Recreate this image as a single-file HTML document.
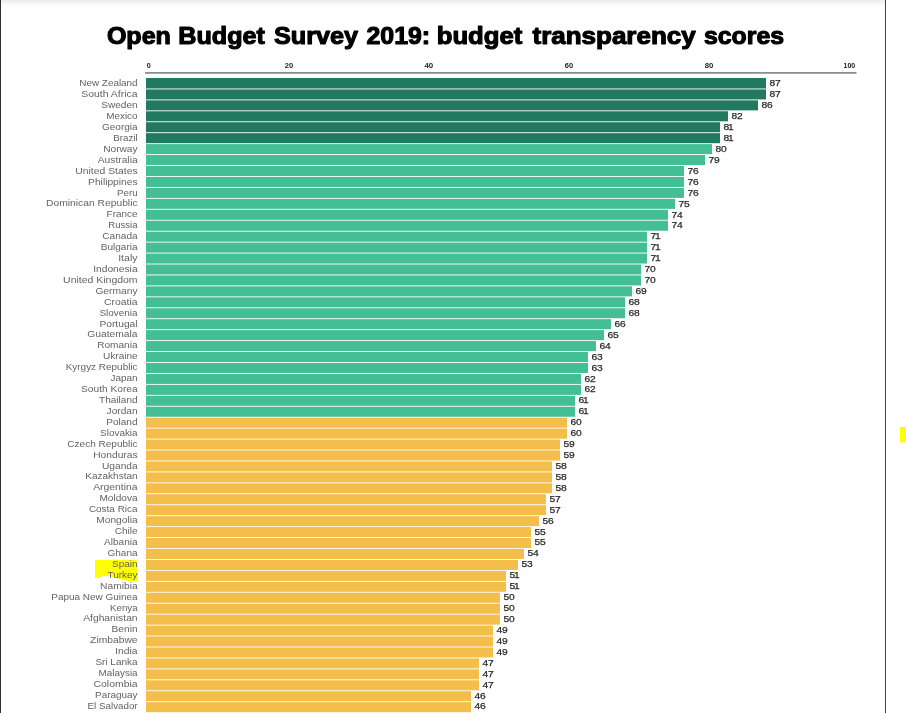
<!DOCTYPE html>
<html><head><meta charset="utf-8"><title>Open Budget Survey 2019</title>
<style>
html,body{margin:0;padding:0;background:#fff;}
body{width:906px;height:713px;overflow:hidden;position:relative;font-family:"Liberation Sans",sans-serif;}
svg{position:absolute;left:0;top:0;display:block;will-change:transform;}
text{font-family:"Liberation Sans",sans-serif;}
.lab{font-size:8.6px;fill:#636363;text-anchor:end;}
.val{font-size:9.4px;fill:#2b2b2b;stroke:#2b2b2b;stroke-width:0.25px;text-anchor:start;}
.tick{font-size:7.1px;font-weight:bold;fill:#222;}
.title{font-size:24px;font-weight:bold;fill:#000;stroke:#000;stroke-width:1.1px;stroke-linejoin:round;}
</style></head><body>
<svg width="906" height="713" viewBox="0 0 906 713">
<defs><linearGradient id="tg" x1="0" y1="0" x2="0" y2="1"><stop offset="0" stop-color="#ebebeb"/><stop offset="1" stop-color="#ffffff"/></linearGradient></defs>
<rect x="0" y="0" width="906" height="713" fill="#fff"/>
<rect x="1" y="0" width="884" height="6" fill="url(#tg)"/>
<rect x="0" y="0" width="1" height="713" fill="#303030"/>
<rect x="885" y="0" width="1" height="713" fill="#444"/>
<rect x="900" y="427" width="6" height="15.5" fill="#ffff00"/>
<polygon points="95,560 136.5,560 137.9,567 137.9,581.6 133,581.4 122.4,579.9 109.1,576.1 102.1,576.1 100.3,577.8 95,577.7" fill="#ffff00"/>
<text class="title" x="106.90" y="43.6" textLength="64.01" lengthAdjust="spacingAndGlyphs">Open</text>
<text class="title" x="178.30" y="43.6" textLength="86.60" lengthAdjust="spacingAndGlyphs">Budget</text>
<text class="title" x="273.90" y="43.6" textLength="84.20" lengthAdjust="spacingAndGlyphs">Survey</text>
<text class="title" x="366.50" y="43.6" textLength="63.67" lengthAdjust="spacingAndGlyphs">2019:</text>
<text class="title" x="436.70" y="43.6" textLength="85.60" lengthAdjust="spacingAndGlyphs">budget</text>
<text class="title" x="532.50" y="43.6" textLength="163.20" lengthAdjust="spacingAndGlyphs">transparency</text>
<text class="title" x="703.90" y="43.6" textLength="80.20" lengthAdjust="spacingAndGlyphs">scores</text>
<rect x="145" y="72.1" width="711.5" height="1.6" fill="#7f827f"/>

<text class="tick" x="146.8" y="68" textLength="4.0" lengthAdjust="spacingAndGlyphs">0</text>
<text class="tick" x="284.8" y="68" textLength="8.4" lengthAdjust="spacingAndGlyphs">20</text>
<text class="tick" x="424.4" y="68" textLength="8.8" lengthAdjust="spacingAndGlyphs">40</text>
<text class="tick" x="564.8" y="68" textLength="8.4" lengthAdjust="spacingAndGlyphs">60</text>
<text class="tick" x="704.8" y="68" textLength="8.6" lengthAdjust="spacingAndGlyphs">80</text>
<text class="tick" x="843.5" y="68" textLength="11.7" lengthAdjust="spacingAndGlyphs">100</text>
<rect x="146.0" y="78.000" width="620.0" height="10.490" fill="#217a5e"/>
<text class="lab" x="137.6" y="86.30" textLength="58.3" lengthAdjust="spacingAndGlyphs">New Zealand</text>
<text class="val" x="769.4" y="86.35" textLength="5.7" lengthAdjust="spacingAndGlyphs">8</text>
<text class="val" x="775.1" y="86.35" textLength="5.7" lengthAdjust="spacingAndGlyphs">7</text>
<rect x="146.0" y="89.392" width="620.0" height="10.040" fill="#217a5e"/>
<text class="lab" x="137.6" y="97.22" textLength="56.4" lengthAdjust="spacingAndGlyphs">South Africa</text>
<text class="val" x="769.4" y="97.28" textLength="5.7" lengthAdjust="spacingAndGlyphs">8</text>
<text class="val" x="775.1" y="97.28" textLength="5.7" lengthAdjust="spacingAndGlyphs">7</text>
<rect x="146.0" y="100.334" width="612.0" height="10.040" fill="#217a5e"/>
<text class="lab" x="137.6" y="108.14" textLength="36.4" lengthAdjust="spacingAndGlyphs">Sweden</text>
<text class="val" x="761.4" y="108.21" textLength="5.7" lengthAdjust="spacingAndGlyphs">8</text>
<text class="val" x="767.1" y="108.21" textLength="5.7" lengthAdjust="spacingAndGlyphs">6</text>
<rect x="146.0" y="111.276" width="582.0" height="10.040" fill="#217a5e"/>
<text class="lab" x="137.6" y="119.06" textLength="31.4" lengthAdjust="spacingAndGlyphs">Mexico</text>
<text class="val" x="731.4" y="119.15" textLength="5.7" lengthAdjust="spacingAndGlyphs">8</text>
<text class="val" x="737.1" y="119.15" textLength="5.7" lengthAdjust="spacingAndGlyphs">2</text>
<rect x="146.0" y="122.218" width="574.0" height="10.040" fill="#217a5e"/>
<text class="lab" x="137.6" y="129.98" textLength="35.6" lengthAdjust="spacingAndGlyphs">Georgia</text>
<text class="val" x="723.4" y="130.08" textLength="5.7" lengthAdjust="spacingAndGlyphs">8</text>
<text class="val" x="728.1" y="130.08" textLength="5.7" lengthAdjust="spacingAndGlyphs">1</text>
<rect x="146.0" y="133.160" width="574.0" height="10.040" fill="#217a5e"/>
<text class="lab" x="137.6" y="140.91" textLength="24.3" lengthAdjust="spacingAndGlyphs">Brazil</text>
<text class="val" x="723.4" y="141.01" textLength="5.7" lengthAdjust="spacingAndGlyphs">8</text>
<text class="val" x="728.1" y="141.01" textLength="5.7" lengthAdjust="spacingAndGlyphs">1</text>
<rect x="146.0" y="144.102" width="566.0" height="10.040" fill="#44be94"/>
<text class="lab" x="137.6" y="151.83" textLength="34.4" lengthAdjust="spacingAndGlyphs">Norway</text>
<text class="val" x="715.4" y="151.94" textLength="5.7" lengthAdjust="spacingAndGlyphs">8</text>
<text class="val" x="721.1" y="151.94" textLength="5.7" lengthAdjust="spacingAndGlyphs">0</text>
<rect x="146.0" y="155.044" width="559.0" height="10.040" fill="#44be94"/>
<text class="lab" x="137.6" y="162.75" textLength="39.8" lengthAdjust="spacingAndGlyphs">Australia</text>
<text class="val" x="708.4" y="162.87" textLength="5.7" lengthAdjust="spacingAndGlyphs">7</text>
<text class="val" x="714.1" y="162.87" textLength="5.7" lengthAdjust="spacingAndGlyphs">9</text>
<rect x="146.0" y="165.986" width="538.0" height="10.040" fill="#44be94"/>
<text class="lab" x="137.6" y="173.67" textLength="62.3" lengthAdjust="spacingAndGlyphs">United States</text>
<text class="val" x="687.4" y="173.81" textLength="5.7" lengthAdjust="spacingAndGlyphs">7</text>
<text class="val" x="693.1" y="173.81" textLength="5.7" lengthAdjust="spacingAndGlyphs">6</text>
<rect x="146.0" y="176.928" width="538.0" height="10.040" fill="#44be94"/>
<text class="lab" x="137.6" y="184.59" textLength="49.5" lengthAdjust="spacingAndGlyphs">Philippines</text>
<text class="val" x="687.4" y="184.74" textLength="5.7" lengthAdjust="spacingAndGlyphs">7</text>
<text class="val" x="693.1" y="184.74" textLength="5.7" lengthAdjust="spacingAndGlyphs">6</text>
<rect x="146.0" y="187.870" width="538.0" height="10.040" fill="#44be94"/>
<text class="lab" x="137.6" y="195.51" textLength="20.5" lengthAdjust="spacingAndGlyphs">Peru</text>
<text class="val" x="687.4" y="195.67" textLength="5.7" lengthAdjust="spacingAndGlyphs">7</text>
<text class="val" x="693.1" y="195.67" textLength="5.7" lengthAdjust="spacingAndGlyphs">6</text>
<rect x="146.0" y="198.812" width="529.0" height="10.040" fill="#44be94"/>
<text class="lab" x="137.6" y="206.43" textLength="91.6" lengthAdjust="spacingAndGlyphs">Dominican Republic</text>
<text class="val" x="678.4" y="206.60" textLength="5.7" lengthAdjust="spacingAndGlyphs">7</text>
<text class="val" x="684.1" y="206.60" textLength="5.7" lengthAdjust="spacingAndGlyphs">5</text>
<rect x="146.0" y="209.754" width="522.0" height="10.040" fill="#44be94"/>
<text class="lab" x="137.6" y="217.35" textLength="31.0" lengthAdjust="spacingAndGlyphs">France</text>
<text class="val" x="671.4" y="217.53" textLength="5.7" lengthAdjust="spacingAndGlyphs">7</text>
<text class="val" x="677.1" y="217.53" textLength="5.7" lengthAdjust="spacingAndGlyphs">4</text>
<rect x="146.0" y="220.696" width="522.0" height="10.040" fill="#44be94"/>
<text class="lab" x="137.6" y="228.27" textLength="29.3" lengthAdjust="spacingAndGlyphs">Russia</text>
<text class="val" x="671.4" y="228.47" textLength="5.7" lengthAdjust="spacingAndGlyphs">7</text>
<text class="val" x="677.1" y="228.47" textLength="5.7" lengthAdjust="spacingAndGlyphs">4</text>
<rect x="146.0" y="231.638" width="501.0" height="10.040" fill="#44be94"/>
<text class="lab" x="137.6" y="239.19" textLength="35.3" lengthAdjust="spacingAndGlyphs">Canada</text>
<text class="val" x="650.4" y="239.40" textLength="5.7" lengthAdjust="spacingAndGlyphs">7</text>
<text class="val" x="655.1" y="239.40" textLength="5.7" lengthAdjust="spacingAndGlyphs">1</text>
<rect x="146.0" y="242.580" width="501.0" height="10.040" fill="#44be94"/>
<text class="lab" x="137.6" y="250.12" textLength="36.8" lengthAdjust="spacingAndGlyphs">Bulgaria</text>
<text class="val" x="650.4" y="250.33" textLength="5.7" lengthAdjust="spacingAndGlyphs">7</text>
<text class="val" x="655.1" y="250.33" textLength="5.7" lengthAdjust="spacingAndGlyphs">1</text>
<rect x="146.0" y="253.522" width="501.0" height="10.040" fill="#44be94"/>
<text class="lab" x="137.6" y="261.04" textLength="19.4" lengthAdjust="spacingAndGlyphs">Italy</text>
<text class="val" x="650.4" y="261.26" textLength="5.7" lengthAdjust="spacingAndGlyphs">7</text>
<text class="val" x="655.1" y="261.26" textLength="5.7" lengthAdjust="spacingAndGlyphs">1</text>
<rect x="146.0" y="264.464" width="495.0" height="10.040" fill="#44be94"/>
<text class="lab" x="137.6" y="271.96" textLength="44.4" lengthAdjust="spacingAndGlyphs">Indonesia</text>
<text class="val" x="644.4" y="272.19" textLength="5.7" lengthAdjust="spacingAndGlyphs">7</text>
<text class="val" x="650.1" y="272.19" textLength="5.7" lengthAdjust="spacingAndGlyphs">0</text>
<rect x="146.0" y="275.406" width="495.0" height="10.040" fill="#44be94"/>
<text class="lab" x="137.6" y="282.88" textLength="74.5" lengthAdjust="spacingAndGlyphs">United Kingdom</text>
<text class="val" x="644.4" y="283.13" textLength="5.7" lengthAdjust="spacingAndGlyphs">7</text>
<text class="val" x="650.1" y="283.13" textLength="5.7" lengthAdjust="spacingAndGlyphs">0</text>
<rect x="146.0" y="286.348" width="486.0" height="10.040" fill="#44be94"/>
<text class="lab" x="137.6" y="293.80" textLength="42.2" lengthAdjust="spacingAndGlyphs">Germany</text>
<text class="val" x="635.4" y="294.06" textLength="5.7" lengthAdjust="spacingAndGlyphs">6</text>
<text class="val" x="641.1" y="294.06" textLength="5.7" lengthAdjust="spacingAndGlyphs">9</text>
<rect x="146.0" y="297.290" width="479.0" height="10.040" fill="#44be94"/>
<text class="lab" x="137.6" y="304.72" textLength="33.6" lengthAdjust="spacingAndGlyphs">Croatia</text>
<text class="val" x="628.4" y="304.99" textLength="5.7" lengthAdjust="spacingAndGlyphs">6</text>
<text class="val" x="634.1" y="304.99" textLength="5.7" lengthAdjust="spacingAndGlyphs">8</text>
<rect x="146.0" y="308.232" width="479.0" height="10.040" fill="#44be94"/>
<text class="lab" x="137.6" y="315.64" textLength="38.2" lengthAdjust="spacingAndGlyphs">Slovenia</text>
<text class="val" x="628.4" y="315.92" textLength="5.7" lengthAdjust="spacingAndGlyphs">6</text>
<text class="val" x="634.1" y="315.92" textLength="5.7" lengthAdjust="spacingAndGlyphs">8</text>
<rect x="146.0" y="319.174" width="465.0" height="10.040" fill="#44be94"/>
<text class="lab" x="137.6" y="326.56" textLength="38.2" lengthAdjust="spacingAndGlyphs">Portugal</text>
<text class="val" x="614.4" y="326.85" textLength="5.7" lengthAdjust="spacingAndGlyphs">6</text>
<text class="val" x="620.1" y="326.85" textLength="5.7" lengthAdjust="spacingAndGlyphs">6</text>
<rect x="146.0" y="330.116" width="458.0" height="10.040" fill="#44be94"/>
<text class="lab" x="137.6" y="337.48" textLength="50.3" lengthAdjust="spacingAndGlyphs">Guatemala</text>
<text class="val" x="607.4" y="337.79" textLength="5.7" lengthAdjust="spacingAndGlyphs">6</text>
<text class="val" x="613.1" y="337.79" textLength="5.7" lengthAdjust="spacingAndGlyphs">5</text>
<rect x="146.0" y="341.058" width="450.0" height="10.040" fill="#44be94"/>
<text class="lab" x="137.6" y="348.40" textLength="40.4" lengthAdjust="spacingAndGlyphs">Romania</text>
<text class="val" x="599.4" y="348.72" textLength="5.7" lengthAdjust="spacingAndGlyphs">6</text>
<text class="val" x="605.1" y="348.72" textLength="5.7" lengthAdjust="spacingAndGlyphs">4</text>
<rect x="146.0" y="352.000" width="442.0" height="10.040" fill="#44be94"/>
<text class="lab" x="137.6" y="359.32" textLength="34.5" lengthAdjust="spacingAndGlyphs">Ukraine</text>
<text class="val" x="591.4" y="359.65" textLength="5.7" lengthAdjust="spacingAndGlyphs">6</text>
<text class="val" x="597.1" y="359.65" textLength="5.7" lengthAdjust="spacingAndGlyphs">3</text>
<rect x="146.0" y="362.942" width="442.0" height="10.040" fill="#44be94"/>
<text class="lab" x="137.6" y="370.25" textLength="71.9" lengthAdjust="spacingAndGlyphs">Kyrgyz Republic</text>
<text class="val" x="591.4" y="370.58" textLength="5.7" lengthAdjust="spacingAndGlyphs">6</text>
<text class="val" x="597.1" y="370.58" textLength="5.7" lengthAdjust="spacingAndGlyphs">3</text>
<rect x="146.0" y="373.884" width="435.0" height="10.040" fill="#44be94"/>
<text class="lab" x="137.6" y="381.17" textLength="27.1" lengthAdjust="spacingAndGlyphs">Japan</text>
<text class="val" x="584.4" y="381.51" textLength="5.7" lengthAdjust="spacingAndGlyphs">6</text>
<text class="val" x="590.1" y="381.51" textLength="5.7" lengthAdjust="spacingAndGlyphs">2</text>
<rect x="146.0" y="384.826" width="435.0" height="10.040" fill="#44be94"/>
<text class="lab" x="137.6" y="392.09" textLength="56.5" lengthAdjust="spacingAndGlyphs">South Korea</text>
<text class="val" x="584.4" y="392.45" textLength="5.7" lengthAdjust="spacingAndGlyphs">6</text>
<text class="val" x="590.1" y="392.45" textLength="5.7" lengthAdjust="spacingAndGlyphs">2</text>
<rect x="146.0" y="395.768" width="429.0" height="10.040" fill="#44be94"/>
<text class="lab" x="137.6" y="403.01" textLength="38.5" lengthAdjust="spacingAndGlyphs">Thailand</text>
<text class="val" x="578.4" y="403.38" textLength="5.7" lengthAdjust="spacingAndGlyphs">6</text>
<text class="val" x="583.1" y="403.38" textLength="5.7" lengthAdjust="spacingAndGlyphs">1</text>
<rect x="146.0" y="406.710" width="429.0" height="10.040" fill="#44be94"/>
<text class="lab" x="137.6" y="413.93" textLength="31.0" lengthAdjust="spacingAndGlyphs">Jordan</text>
<text class="val" x="578.4" y="414.31" textLength="5.7" lengthAdjust="spacingAndGlyphs">6</text>
<text class="val" x="583.1" y="414.31" textLength="5.7" lengthAdjust="spacingAndGlyphs">1</text>
<rect x="146.0" y="417.652" width="421.0" height="10.040" fill="#f4be4b"/>
<text class="lab" x="137.6" y="424.85" textLength="31.4" lengthAdjust="spacingAndGlyphs">Poland</text>
<text class="val" x="570.4" y="425.24" textLength="5.7" lengthAdjust="spacingAndGlyphs">6</text>
<text class="val" x="576.1" y="425.24" textLength="5.7" lengthAdjust="spacingAndGlyphs">0</text>
<rect x="146.0" y="428.594" width="421.0" height="10.040" fill="#f4be4b"/>
<text class="lab" x="137.6" y="435.77" textLength="37.5" lengthAdjust="spacingAndGlyphs">Slovakia</text>
<text class="val" x="570.4" y="436.17" textLength="5.7" lengthAdjust="spacingAndGlyphs">6</text>
<text class="val" x="576.1" y="436.17" textLength="5.7" lengthAdjust="spacingAndGlyphs">0</text>
<rect x="146.0" y="439.536" width="414.0" height="10.040" fill="#f4be4b"/>
<text class="lab" x="137.6" y="446.69" textLength="70.3" lengthAdjust="spacingAndGlyphs">Czech Republic</text>
<text class="val" x="563.4" y="447.11" textLength="5.7" lengthAdjust="spacingAndGlyphs">5</text>
<text class="val" x="569.1" y="447.11" textLength="5.7" lengthAdjust="spacingAndGlyphs">9</text>
<rect x="146.0" y="450.478" width="414.0" height="10.040" fill="#f4be4b"/>
<text class="lab" x="137.6" y="457.61" textLength="44.4" lengthAdjust="spacingAndGlyphs">Honduras</text>
<text class="val" x="563.4" y="458.04" textLength="5.7" lengthAdjust="spacingAndGlyphs">5</text>
<text class="val" x="569.1" y="458.04" textLength="5.7" lengthAdjust="spacingAndGlyphs">9</text>
<rect x="146.0" y="461.420" width="406.0" height="10.040" fill="#f4be4b"/>
<text class="lab" x="137.6" y="468.53" textLength="35.6" lengthAdjust="spacingAndGlyphs">Uganda</text>
<text class="val" x="555.4" y="468.97" textLength="5.7" lengthAdjust="spacingAndGlyphs">5</text>
<text class="val" x="561.1" y="468.97" textLength="5.7" lengthAdjust="spacingAndGlyphs">8</text>
<rect x="146.0" y="472.362" width="406.0" height="10.040" fill="#f4be4b"/>
<text class="lab" x="137.6" y="479.46" textLength="52.3" lengthAdjust="spacingAndGlyphs">Kazakhstan</text>
<text class="val" x="555.4" y="479.90" textLength="5.7" lengthAdjust="spacingAndGlyphs">5</text>
<text class="val" x="561.1" y="479.90" textLength="5.7" lengthAdjust="spacingAndGlyphs">8</text>
<rect x="146.0" y="483.304" width="406.0" height="10.040" fill="#f4be4b"/>
<text class="lab" x="137.6" y="490.38" textLength="44.4" lengthAdjust="spacingAndGlyphs">Argentina</text>
<text class="val" x="555.4" y="490.83" textLength="5.7" lengthAdjust="spacingAndGlyphs">5</text>
<text class="val" x="561.1" y="490.83" textLength="5.7" lengthAdjust="spacingAndGlyphs">8</text>
<rect x="146.0" y="494.246" width="400.0" height="10.040" fill="#f4be4b"/>
<text class="lab" x="137.6" y="501.30" textLength="38.2" lengthAdjust="spacingAndGlyphs">Moldova</text>
<text class="val" x="549.4" y="501.77" textLength="5.7" lengthAdjust="spacingAndGlyphs">5</text>
<text class="val" x="555.1" y="501.77" textLength="5.7" lengthAdjust="spacingAndGlyphs">7</text>
<rect x="146.0" y="505.188" width="400.0" height="10.040" fill="#f4be4b"/>
<text class="lab" x="137.6" y="512.22" textLength="48.7" lengthAdjust="spacingAndGlyphs">Costa Rica</text>
<text class="val" x="549.4" y="512.70" textLength="5.7" lengthAdjust="spacingAndGlyphs">5</text>
<text class="val" x="555.1" y="512.70" textLength="5.7" lengthAdjust="spacingAndGlyphs">7</text>
<rect x="146.0" y="516.130" width="393.0" height="10.040" fill="#f4be4b"/>
<text class="lab" x="137.6" y="523.14" textLength="41.3" lengthAdjust="spacingAndGlyphs">Mongolia</text>
<text class="val" x="542.4" y="523.63" textLength="5.7" lengthAdjust="spacingAndGlyphs">5</text>
<text class="val" x="548.1" y="523.63" textLength="5.7" lengthAdjust="spacingAndGlyphs">6</text>
<rect x="146.0" y="527.072" width="385.0" height="10.040" fill="#f4be4b"/>
<text class="lab" x="137.6" y="534.06" textLength="22.9" lengthAdjust="spacingAndGlyphs">Chile</text>
<text class="val" x="534.4" y="534.56" textLength="5.7" lengthAdjust="spacingAndGlyphs">5</text>
<text class="val" x="540.1" y="534.56" textLength="5.7" lengthAdjust="spacingAndGlyphs">5</text>
<rect x="146.0" y="538.014" width="385.0" height="10.040" fill="#f4be4b"/>
<text class="lab" x="137.6" y="544.98" textLength="33.6" lengthAdjust="spacingAndGlyphs">Albania</text>
<text class="val" x="534.4" y="545.49" textLength="5.7" lengthAdjust="spacingAndGlyphs">5</text>
<text class="val" x="540.1" y="545.49" textLength="5.7" lengthAdjust="spacingAndGlyphs">5</text>
<rect x="146.0" y="548.956" width="378.0" height="10.040" fill="#f4be4b"/>
<text class="lab" x="137.6" y="555.90" textLength="30.2" lengthAdjust="spacingAndGlyphs">Ghana</text>
<text class="val" x="527.4" y="556.43" textLength="5.7" lengthAdjust="spacingAndGlyphs">5</text>
<text class="val" x="533.1" y="556.43" textLength="5.7" lengthAdjust="spacingAndGlyphs">4</text>
<rect x="146.0" y="559.898" width="372.0" height="10.040" fill="#f4be4b"/>
<text class="lab" x="137.6" y="566.82" textLength="25.6" lengthAdjust="spacingAndGlyphs">Spain</text>
<text class="val" x="521.4" y="567.36" textLength="5.7" lengthAdjust="spacingAndGlyphs">5</text>
<text class="val" x="527.1" y="567.36" textLength="5.7" lengthAdjust="spacingAndGlyphs">3</text>
<rect x="146.0" y="570.840" width="360.0" height="10.040" fill="#f4be4b"/>
<text class="lab" x="137.6" y="577.75" textLength="30.2" lengthAdjust="spacingAndGlyphs">Turkey</text>
<text class="val" x="509.4" y="578.29" textLength="5.7" lengthAdjust="spacingAndGlyphs">5</text>
<text class="val" x="514.1" y="578.29" textLength="5.7" lengthAdjust="spacingAndGlyphs">1</text>
<rect x="146.0" y="581.782" width="360.0" height="10.040" fill="#f4be4b"/>
<text class="lab" x="137.6" y="588.67" textLength="37.5" lengthAdjust="spacingAndGlyphs">Namibia</text>
<text class="val" x="509.4" y="589.22" textLength="5.7" lengthAdjust="spacingAndGlyphs">5</text>
<text class="val" x="514.1" y="589.22" textLength="5.7" lengthAdjust="spacingAndGlyphs">1</text>
<rect x="146.0" y="592.724" width="354.0" height="10.040" fill="#f4be4b"/>
<text class="lab" x="137.6" y="599.59" textLength="86.3" lengthAdjust="spacingAndGlyphs">Papua New Guinea</text>
<text class="val" x="503.4" y="600.15" textLength="5.7" lengthAdjust="spacingAndGlyphs">5</text>
<text class="val" x="509.1" y="600.15" textLength="5.7" lengthAdjust="spacingAndGlyphs">0</text>
<rect x="146.0" y="603.666" width="354.0" height="10.040" fill="#f4be4b"/>
<text class="lab" x="137.6" y="610.51" textLength="27.6" lengthAdjust="spacingAndGlyphs">Kenya</text>
<text class="val" x="503.4" y="611.09" textLength="5.7" lengthAdjust="spacingAndGlyphs">5</text>
<text class="val" x="509.1" y="611.09" textLength="5.7" lengthAdjust="spacingAndGlyphs">0</text>
<rect x="146.0" y="614.608" width="354.0" height="10.040" fill="#f4be4b"/>
<text class="lab" x="137.6" y="621.43" textLength="54.4" lengthAdjust="spacingAndGlyphs">Afghanistan</text>
<text class="val" x="503.4" y="622.02" textLength="5.7" lengthAdjust="spacingAndGlyphs">5</text>
<text class="val" x="509.1" y="622.02" textLength="5.7" lengthAdjust="spacingAndGlyphs">0</text>
<rect x="146.0" y="625.550" width="347.0" height="10.040" fill="#f4be4b"/>
<text class="lab" x="137.6" y="632.35" textLength="26.0" lengthAdjust="spacingAndGlyphs">Benin</text>
<text class="val" x="496.4" y="632.95" textLength="5.7" lengthAdjust="spacingAndGlyphs">4</text>
<text class="val" x="502.1" y="632.95" textLength="5.7" lengthAdjust="spacingAndGlyphs">9</text>
<rect x="146.0" y="636.492" width="347.0" height="10.040" fill="#f4be4b"/>
<text class="lab" x="137.6" y="643.27" textLength="47.5" lengthAdjust="spacingAndGlyphs">Zimbabwe</text>
<text class="val" x="496.4" y="643.88" textLength="5.7" lengthAdjust="spacingAndGlyphs">4</text>
<text class="val" x="502.1" y="643.88" textLength="5.7" lengthAdjust="spacingAndGlyphs">9</text>
<rect x="146.0" y="647.434" width="347.0" height="10.040" fill="#f4be4b"/>
<text class="lab" x="137.6" y="654.19" textLength="22.5" lengthAdjust="spacingAndGlyphs">India</text>
<text class="val" x="496.4" y="654.81" textLength="5.7" lengthAdjust="spacingAndGlyphs">4</text>
<text class="val" x="502.1" y="654.81" textLength="5.7" lengthAdjust="spacingAndGlyphs">9</text>
<rect x="146.0" y="658.376" width="333.0" height="10.040" fill="#f4be4b"/>
<text class="lab" x="137.6" y="665.11" textLength="42.2" lengthAdjust="spacingAndGlyphs">Sri Lanka</text>
<text class="val" x="482.4" y="665.75" textLength="5.7" lengthAdjust="spacingAndGlyphs">4</text>
<text class="val" x="488.1" y="665.75" textLength="5.7" lengthAdjust="spacingAndGlyphs">7</text>
<rect x="146.0" y="669.318" width="333.0" height="10.040" fill="#f4be4b"/>
<text class="lab" x="137.6" y="676.03" textLength="39.0" lengthAdjust="spacingAndGlyphs">Malaysia</text>
<text class="val" x="482.4" y="676.68" textLength="5.7" lengthAdjust="spacingAndGlyphs">4</text>
<text class="val" x="488.1" y="676.68" textLength="5.7" lengthAdjust="spacingAndGlyphs">7</text>
<rect x="146.0" y="680.260" width="333.0" height="10.040" fill="#f4be4b"/>
<text class="lab" x="137.6" y="686.95" textLength="44.1" lengthAdjust="spacingAndGlyphs">Colombia</text>
<text class="val" x="482.4" y="687.61" textLength="5.7" lengthAdjust="spacingAndGlyphs">4</text>
<text class="val" x="488.1" y="687.61" textLength="5.7" lengthAdjust="spacingAndGlyphs">7</text>
<rect x="146.0" y="691.202" width="325.0" height="10.040" fill="#f4be4b"/>
<text class="lab" x="137.6" y="697.88" textLength="42.5" lengthAdjust="spacingAndGlyphs">Paraguay</text>
<text class="val" x="474.4" y="698.54" textLength="5.7" lengthAdjust="spacingAndGlyphs">4</text>
<text class="val" x="480.1" y="698.54" textLength="5.7" lengthAdjust="spacingAndGlyphs">6</text>
<rect x="146.0" y="702.144" width="325.0" height="10.040" fill="#f4be4b"/>
<text class="lab" x="137.6" y="708.80" textLength="50.0" lengthAdjust="spacingAndGlyphs">El Salvador</text>
<text class="val" x="474.4" y="709.47" textLength="5.7" lengthAdjust="spacingAndGlyphs">4</text>
<text class="val" x="480.1" y="709.47" textLength="5.7" lengthAdjust="spacingAndGlyphs">6</text>
</svg></body></html>
